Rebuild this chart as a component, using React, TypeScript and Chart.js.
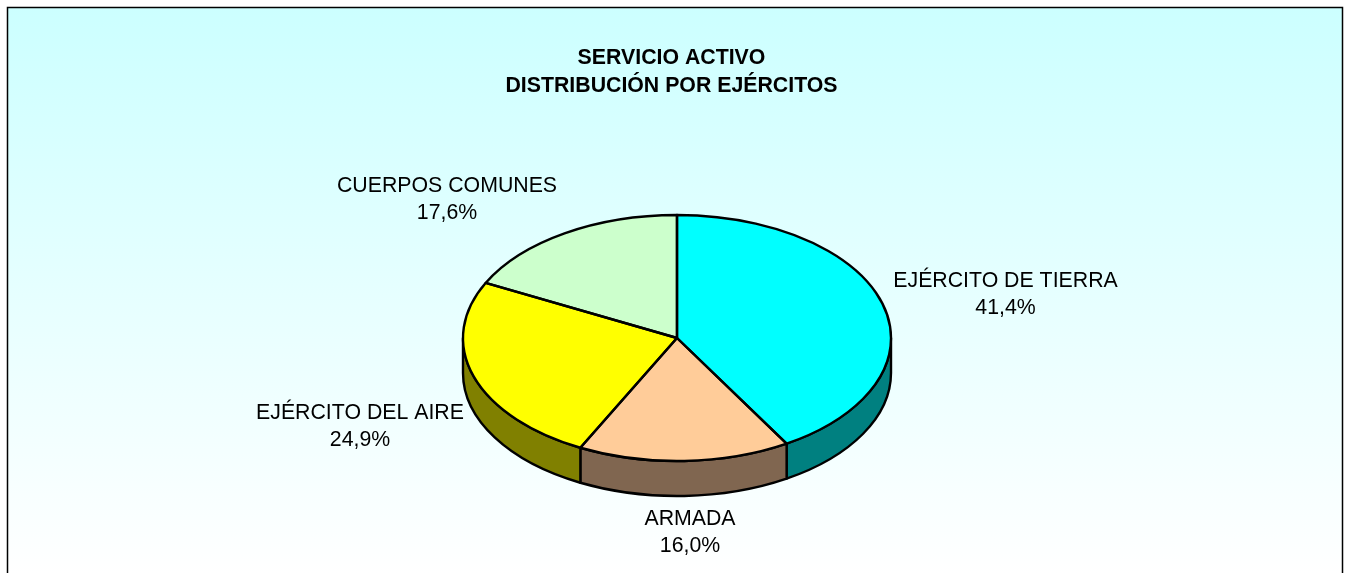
import React, { useEffect, useRef } from "react";
import { Chart, registerables } from "chart.js";

Chart.register(...registerables);

const titleLines = ["SERVICIO ACTIVO", "DISTRIBUCIÓN POR EJÉRCITOS"];
const categories = ["EJÉRCITO DE TIERRA", "ARMADA", "EJÉRCITO DEL AIRE", "CUERPOS COMUNES"];
const shares = [41.4, 16.0, 24.9, 17.6];
const topColors = ["#00FFFF", "#FFCC99", "#FFFF00", "#CCFFCC"];
const wallColors = ["#008080", "#806650", "#808000", "#668066"];

const FONT = '"Liberation Sans", Arial, sans-serif';
const TILT = 123 / 214;
const DEPTH = 35;
const labelAnchors = [
  [1005.5, 287],
  [690, 525],
  [360, 419],
  [447, 192],
];

const panelPlugin = {
  id: "panel",
  beforeDraw(chart: any) {
    const { ctx, width, height } = chart;
    ctx.save();
    const g = ctx.createLinearGradient(0, 8, 0, height);
    g.addColorStop(0, "#CCFFFF");
    g.addColorStop(1, "#FFFFFF");
    ctx.fillStyle = "#FFFFFF";
    ctx.fillRect(0, 0, width, height);
    ctx.fillStyle = g;
    ctx.fillRect(8, 8, 1335, height);
    ctx.strokeStyle = "#000000";
    ctx.lineWidth = 1.5;
    ctx.strokeRect(7.5, 7.5, 1335, height + 20);
    ctx.fillStyle = "#000000";
    ctx.textAlign = "center";
    ctx.textBaseline = "alphabetic";
    ctx.font = `bold 21.3px ${FONT}`;
    titleLines.forEach((t, i) => ctx.fillText(t, 671.5, 64 + i * 28));
    ctx.restore();
  },
};

const pie3dPlugin = {
  id: "pie3d",
  beforeDatasetsDraw(chart: any) {
    const { ctx } = chart;
    const arcs = chart.getDatasetMeta(0).data;
    const cx = arcs[0].x;
    const cy = arcs[0].y;
    ctx.save();
    ctx.lineWidth = 2.4;
    ctx.strokeStyle = "#000000";
    ctx.lineJoin = "round";
    arcs.forEach((arc: any, i: number) => {
      const rx = arc.outerRadius;
      const ry = rx * TILT;
      const lo = Math.max(arc.startAngle, 0);
      const hi = Math.min(arc.endAngle, Math.PI);
      if (hi <= lo) return;
      ctx.beginPath();
      ctx.ellipse(cx, cy, rx, ry, 0, lo, hi);
      ctx.ellipse(cx, cy + DEPTH, rx, ry, 0, hi, lo, true);
      ctx.closePath();
      ctx.fillStyle = wallColors[i];
      ctx.fill();
      ctx.stroke();
    });
    ctx.restore();
    ctx.save();
    ctx.translate(cx, cy);
    ctx.scale(1, TILT);
    ctx.translate(-cx, -cy);
  },
  afterDatasetsDraw(chart: any) {
    const { ctx } = chart;
    ctx.restore();
    const arcs = chart.getDatasetMeta(0).data;
    ctx.save();
    ctx.lineWidth = 2.4;
    ctx.strokeStyle = "#000000";
    ctx.lineJoin = "round";
    arcs.forEach((arc: any) => {
      const rx = arc.outerRadius;
      ctx.beginPath();
      ctx.moveTo(arc.x, arc.y);
      ctx.ellipse(arc.x, arc.y, rx, rx * TILT, 0, arc.startAngle, arc.endAngle);
      ctx.closePath();
      ctx.stroke();
    });
    ctx.fillStyle = "#000000";
    ctx.textAlign = "center";
    ctx.textBaseline = "alphabetic";
    ctx.font = `21.3px ${FONT}`;
    categories.forEach((name, i) => {
      const [x, y] = labelAnchors[i];
      ctx.fillText(name, x, y);
      ctx.fillText(`${shares[i].toFixed(1).replace(".", ",")}%`, x, y + 27);
    });
    ctx.restore();
  },
};

export default function App() {
  const ref = useRef<HTMLCanvasElement>(null);
  useEffect(() => {
    const chart = new Chart(ref.current!, {
      type: "pie",
      data: {
        labels: categories,
        datasets: [{ data: shares, backgroundColor: topColors, borderWidth: 0 }],
      },
      options: {
        responsive: false,
        animation: false,
        radius: 214,
        layout: { padding: { left: 9, right: 0, top: 103, bottom: 0 } },
        plugins: { legend: { display: false }, tooltip: { enabled: false }, title: { display: false } },
      },
      plugins: [panelPlugin, pie3dPlugin],
    } as any);
    return () => chart.destroy();
  }, []);
  return (
    <div style={{ position: "absolute", left: 0, top: 0, width: 1345, height: 573, overflow: "hidden" }}>
      <canvas ref={ref} width={1345} height={573} style={{ display: "block" }} />
    </div>
  );
}
